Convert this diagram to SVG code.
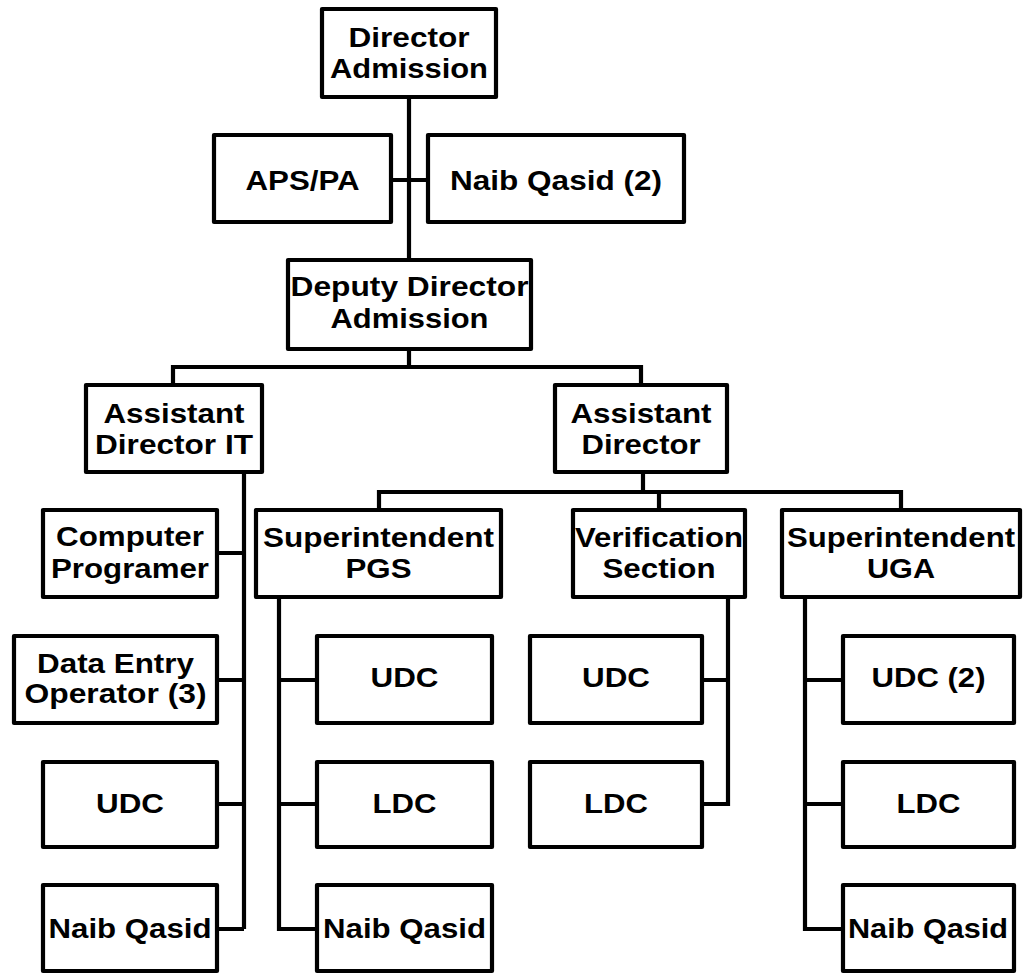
<svg xmlns="http://www.w3.org/2000/svg" width="1034" height="974" viewBox="0 0 1034 974">
<style>
.b{fill:#fff;stroke:#000;stroke-width:4.2;stroke-linejoin:round}
.t{font-family:"Liberation Sans",Arial,sans-serif;font-weight:bold;font-size:27.5px;text-anchor:middle;fill:#000}
.c{fill:none;stroke:#000;stroke-width:4.2;stroke-linejoin:miter}
</style>
<rect width="1034" height="974" fill="#fff"/>
<g id="connectors">
<path class="c" d="M409 97V260M391 180H428M409 349V367M173 385V367H641V385"/>
<path class="c" d="M244 472V929M217 553H244M217 680H244M217 804H244M217 929H244"/>
<path class="c" d="M643 472V492M379 510V492H901V510M659 492V510"/>
<path class="c" d="M279 597V929H317M279 680H317M279 804H317"/>
<path class="c" d="M728 597V804H702M702 680H728"/>
<path class="c" d="M805 597V929H843M805 680H843M805 804H843"/>
</g>
<g id="director"><rect class="b" x="322" y="9" width="174" height="88"/><text class="t" x="409" y="47" textLength="121" lengthAdjust="spacingAndGlyphs">Director</text><text class="t" x="409" y="78" textLength="158" lengthAdjust="spacingAndGlyphs">Admission</text></g>
<g id="aps"><rect class="b" x="214" y="135" width="177" height="87"/><text class="t" x="302.5" y="190" textLength="114" lengthAdjust="spacingAndGlyphs">APS/PA</text></g>
<g id="naib2"><rect class="b" x="428" y="135" width="256" height="87"/><text class="t" x="556" y="190" textLength="212" lengthAdjust="spacingAndGlyphs">Naib Qasid (2)</text></g>
<g id="deputy"><rect class="b" x="288" y="260" width="243" height="89"/><text class="t" x="409.5" y="296" textLength="238" lengthAdjust="spacingAndGlyphs">Deputy Director</text><text class="t" x="409.5" y="328" textLength="158" lengthAdjust="spacingAndGlyphs">Admission</text></g>
<g id="adit"><rect class="b" x="86" y="385" width="176" height="87"/><text class="t" x="174" y="423" textLength="141" lengthAdjust="spacingAndGlyphs">Assistant</text><text class="t" x="174" y="454" textLength="158" lengthAdjust="spacingAndGlyphs">Director IT</text></g>
<g id="ad"><rect class="b" x="555" y="385" width="172" height="87"/><text class="t" x="641" y="423" textLength="141" lengthAdjust="spacingAndGlyphs">Assistant</text><text class="t" x="641" y="454" textLength="119" lengthAdjust="spacingAndGlyphs">Director</text></g>
<g id="cp"><rect class="b" x="43" y="510" width="174" height="87"/><text class="t" x="130" y="546" textLength="148" lengthAdjust="spacingAndGlyphs">Computer</text><text class="t" x="130" y="578" textLength="158" lengthAdjust="spacingAndGlyphs">Programer</text></g>
<g id="deo"><rect class="b" x="14" y="636" width="203" height="87"/><text class="t" x="115.5" y="673" textLength="157" lengthAdjust="spacingAndGlyphs">Data Entry</text><text class="t" x="115.5" y="703" textLength="182" lengthAdjust="spacingAndGlyphs">Operator (3)</text></g>
<g id="udc-it"><rect class="b" x="43" y="762" width="174" height="85"/><text class="t" x="130" y="813" textLength="68" lengthAdjust="spacingAndGlyphs">UDC</text></g>
<g id="nq-it"><rect class="b" x="43" y="885" width="174" height="86"/><text class="t" x="130" y="937.5" textLength="163" lengthAdjust="spacingAndGlyphs">Naib Qasid</text></g>
<g id="pgs"><rect class="b" x="256" y="510" width="245" height="87"/><text class="t" x="378.5" y="547" textLength="231" lengthAdjust="spacingAndGlyphs">Superintendent</text><text class="t" x="378.5" y="578" textLength="66" lengthAdjust="spacingAndGlyphs">PGS</text></g>
<g id="udc-pgs"><rect class="b" x="317" y="636" width="175" height="87"/><text class="t" x="404.5" y="687" textLength="68" lengthAdjust="spacingAndGlyphs">UDC</text></g>
<g id="ldc-pgs"><rect class="b" x="317" y="762" width="175" height="85"/><text class="t" x="404.5" y="813" textLength="64" lengthAdjust="spacingAndGlyphs">LDC</text></g>
<g id="nq-pgs"><rect class="b" x="317" y="885" width="175" height="86"/><text class="t" x="404.5" y="937.5" textLength="163" lengthAdjust="spacingAndGlyphs">Naib Qasid</text></g>
<g id="ver"><rect class="b" x="573" y="510" width="172" height="87"/><text class="t" x="659" y="547" textLength="168" lengthAdjust="spacingAndGlyphs">Verification</text><text class="t" x="659" y="578" textLength="113" lengthAdjust="spacingAndGlyphs">Section</text></g>
<g id="udc-ver"><rect class="b" x="530" y="636" width="172" height="87"/><text class="t" x="616" y="687" textLength="68" lengthAdjust="spacingAndGlyphs">UDC</text></g>
<g id="ldc-ver"><rect class="b" x="530" y="762" width="172" height="85"/><text class="t" x="616" y="813" textLength="64" lengthAdjust="spacingAndGlyphs">LDC</text></g>
<g id="uga"><rect class="b" x="782" y="510" width="238" height="87"/><text class="t" x="901" y="547" textLength="228" lengthAdjust="spacingAndGlyphs">Superintendent</text><text class="t" x="901" y="578" textLength="68" lengthAdjust="spacingAndGlyphs">UGA</text></g>
<g id="udc2-uga"><rect class="b" x="843" y="636" width="171" height="87"/><text class="t" x="928.5" y="687" textLength="114" lengthAdjust="spacingAndGlyphs">UDC (2)</text></g>
<g id="ldc-uga"><rect class="b" x="843" y="762" width="171" height="85"/><text class="t" x="928.5" y="813" textLength="64" lengthAdjust="spacingAndGlyphs">LDC</text></g>
<g id="nq-uga"><rect class="b" x="843" y="885" width="171" height="86"/><text class="t" x="928" y="937.5" textLength="160" lengthAdjust="spacingAndGlyphs">Naib Qasid</text></g>
</svg>
